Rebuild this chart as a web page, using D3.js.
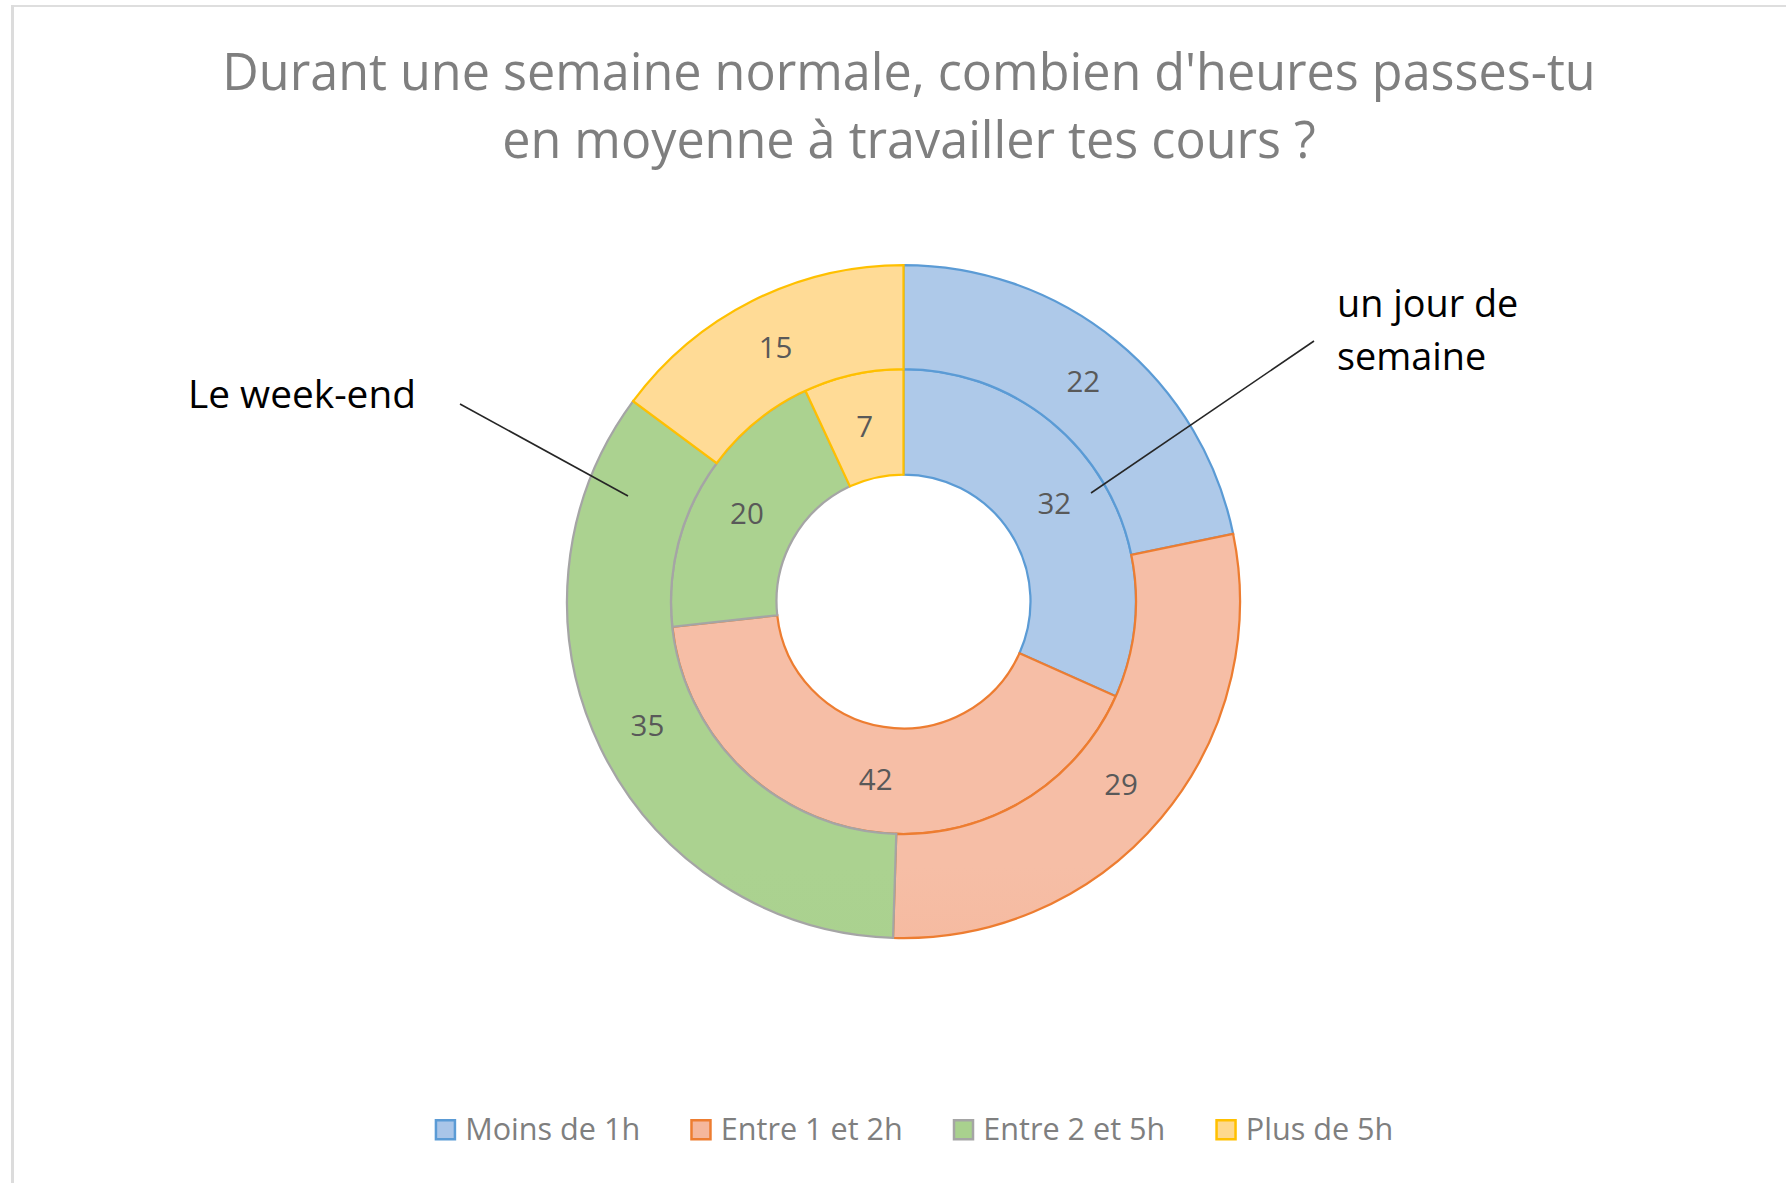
<!DOCTYPE html>
<html>
<head>
<meta charset="utf-8">
<script src="https://cdn.jsdelivr.net/npm/d3@7"></script>
<style>
  html, body { margin: 0; padding: 0; background: #ffffff; }
  svg { display: block; }
  text { font-family: "Open Sans", "Noto Sans", sans-serif; }
</style>
</head>
<body>
<svg id="chart" width="1786" height="1183"></svg>
<script>
// ---------------- data ----------------
const titleLines = ["Durant une semaine normale, combien d'heures passes-tu", "en moyenne à travailler tes cours ?"];
const categories = ["Moins de 1h", "Entre 1 et 2h", "Entre 2 et 5h", "Plus de 5h"];
const weekdayValues = [32, 42, 20, 7];   // inner ring : "un jour de semaine"
const weekendValues = [22, 29, 35, 15];  // outer ring : "Le week-end"
const weekdayLabel = ["un jour de", "semaine"];
const weekendLabel = ["Le week-end"];

// ---------------- styles / layout ----------------
const W = 1786, H = 1183;
const cx = 903.5, cy = 601.5;
const rHole = 127, rMid = 232.5, rOuter = 336.5;
const strokeColors = ["#5b9bd5", "#ed7d31", "#a5a5a5", "#ffc000"];
const gradTop = ["#aec9e9", "#f6bea6", "#abd290", "#ffdb96"];
const gradBottom = ["#88afdf", "#f2a077", "#a4cc88", "#fdd07c"];
const legendFill = ["#a9c5e8", "#f5b79c", "#a9d18e", "#fed98e"];

const svg = d3.select("#chart");
svg.append("rect").attr("width", W).attr("height", H).attr("fill", "#ffffff");

// chart frame (cropped)
svg.append("line").attr("x1", 12.5).attr("x2", W).attr("y1", 6).attr("y2", 6)
  .attr("stroke", "#dedede").attr("stroke-width", 2);
svg.append("line").attr("x1", 12.5).attr("x2", 12.5).attr("y1", 5).attr("y2", H)
  .attr("stroke", "#dcdcdc").attr("stroke-width", 3);

// gradients
const defs = svg.append("defs");
categories.forEach((c, i) => {
  const g = defs.append("linearGradient").attr("id", "grad" + i)
    .attr("gradientUnits", "userSpaceOnUse")
    .attr("x1", 0).attr("x2", 0).attr("y1", cy - rOuter).attr("y2", cy + rOuter);
  g.append("stop").attr("offset", 0).attr("stop-color", gradTop[i]);
  g.append("stop").attr("offset", 1).attr("stop-color", gradBottom[i]);
});

// title
const title = svg.append("text").attr("text-anchor", "middle")
  .attr("fill", "#7f7f7f").attr("font-size", 50.3);
titleLines.forEach((t, i) => {
  title.append("tspan").attr("x", 909).attr("y", 90 + i * 68.3).text(t);
});

// rings
const pie = d3.pie().sort(null).value(d => d);
const rings = [
  { values: weekdayValues, inner: rHole, outer: rMid },
  { values: weekendValues, inner: rMid, outer: rOuter }
];
const g = svg.append("g").attr("transform", `translate(${cx},${cy})`);
rings.forEach((ring, ri) => {
  const arc = d3.arc().innerRadius(ring.inner).outerRadius(ring.outer);
  const arcs = pie(ring.values);
  const rg = g.append("g");
  rg.selectAll("path").data(arcs).join("path")
    .attr("d", arc)
    .attr("fill", (d, i) => `url(#grad${i})`)
    .attr("stroke", (d, i) => strokeColors[i])
    .attr("stroke-width", 2.25)
    .attr("stroke-linejoin", "miter");
  ring.arc = arc; ring.arcs = arcs;
});
// data labels
rings.forEach(ring => {
  g.append("g").selectAll("text").data(ring.arcs).join("text")
    .attr("transform", d => `translate(${ring.arc.centroid(d)})`)
    .attr("text-anchor", "middle")
    .attr("dy", "0.36em")
    .attr("fill", "#595959")
    .attr("font-size", 29.5)
    .text(d => d.data);
});

// series name callouts
const callout = svg.append("g");
callout.append("line").attr("x1", 460).attr("y1", 404).attr("x2", 628).attr("y2", 496)
  .attr("stroke", "#262626").attr("stroke-width", 1.6);
callout.append("line").attr("x1", 1314).attr("y1", 341).attr("x2", 1091).attr("y2", 493)
  .attr("stroke", "#262626").attr("stroke-width", 1.6);
const wk = callout.append("text").attr("fill", "#000000").attr("font-size", 38.8);
weekendLabel.forEach((t, i) => wk.append("tspan").attr("x", 188).attr("y", 408 + i * 53.4).text(t));
const wd = callout.append("text").attr("fill", "#000000").attr("font-size", 37.8);
weekdayLabel.forEach((t, i) => wd.append("tspan").attr("x", 1337).attr("y", 317 + i * 53.4).text(t));

// legend
const legend = svg.append("g");
const items = legend.selectAll("g").data(categories).join("g");
items.append("rect").attr("x", 1.25).attr("y", 1119 + 1.25).attr("width", 19).attr("height", 19)
  .attr("fill", (d, i) => legendFill[i]).attr("stroke", (d, i) => strokeColors[i]).attr("stroke-width", 2.5);
items.append("text").attr("x", 30.5).attr("y", 1140).attr("fill", "#7f7f7f").attr("font-size", 30.6).text(d => d);
let xpos = 0;
const widths = [];
items.each(function () {
  const w = d3.select(this).select("text").node().getComputedTextLength();
  widths.push(30.5 + w);
});
const gap = 50;
const total = d3.sum(widths) + gap * (widths.length - 1);
xpos = 914 - total / 2;
items.each(function (d, i) {
  d3.select(this).attr("transform", `translate(${xpos},0)`);
  xpos += widths[i] + gap;
});
</script>
</body>
</html>
